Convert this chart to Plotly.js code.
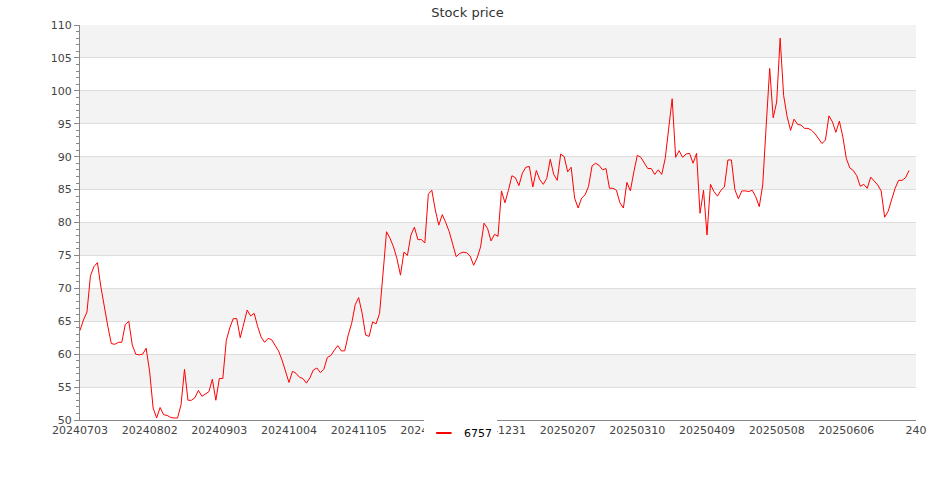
<!DOCTYPE html>
<html>
<head>
<meta charset="utf-8">
<script src="https://cdn.plot.ly/plotly-3.0.1.min.js"></script>
<style>
html, body { margin: 0; padding: 0; background: #ffffff; }
#chart { width: 935px; height: 500px; }
</style>
</head>
<body>
<div id="chart"></div>
<script>
// ---- data ----
const seriesName = '6757';
const chartTitle = 'Stock price';

const prices = [
  63.6, 65.2, 66.4, 71.9, 73.3, 73.9, 70.2, 67.0, 64.2, 61.6,
  61.5, 61.8, 61.8, 64.5, 65.0, 61.4, 60.0, 59.9, 60.0, 60.9,
  57.3, 51.8, 50.3, 51.9, 50.8, 50.7, 50.4, 50.3, 50.3, 52.3,
  57.7, 53.0, 53.0, 53.4, 54.5, 53.6, 54.0, 54.3, 56.2, 53.0,
  56.3, 56.3, 62.1, 64.0, 65.4, 65.4, 62.5, 64.8, 66.7, 65.8,
  66.2, 64.2, 62.6, 61.8, 62.4, 62.2, 61.3, 60.5, 59.1, 57.3,
  55.7, 57.4, 57.1, 56.5, 56.3, 55.6, 56.4, 57.6, 57.9, 57.2,
  57.7, 59.5, 59.8, 60.6, 61.3, 60.5, 60.5, 62.9, 64.7, 67.5,
  68.6, 66.2, 62.9, 62.7, 64.9, 64.6, 66.2, 72.3, 78.6, 77.6,
  76.3, 74.5, 72.0, 75.5, 75.0, 78.1, 79.3, 77.4, 77.4, 76.9,
  84.3, 84.9, 81.9, 79.6, 81.2, 80.0, 78.6, 76.7, 74.8, 75.3,
  75.5, 75.4, 74.9, 73.5, 74.6, 76.3, 79.9, 79.1, 77.2, 78.2,
  77.9, 84.8, 83.0, 84.9, 87.1, 86.8, 85.6, 87.5, 88.4, 88.5,
  85.4, 87.9, 86.5, 85.8, 86.7, 89.6, 87.3, 86.4, 90.4, 90.0,
  87.7, 88.4, 83.7, 82.2, 83.7, 84.2, 85.5, 88.6, 89.0, 88.7,
  88.0, 88.2, 85.2, 85.2, 84.9, 83.0, 82.2, 86.1, 84.8, 87.7,
  90.2, 89.9, 89.1, 88.2, 88.2, 87.3, 88.0, 87.3, 89.7, 94.5,
  98.8, 89.9, 90.9, 89.9, 90.4, 90.5, 89.0, 90.5, 81.4, 84.9,
  78.1, 85.8, 84.7, 84.0, 84.9, 85.4, 89.5, 89.5, 85.0, 83.6,
  84.8, 84.8, 84.7, 84.9, 83.9, 82.4, 85.7, 94.8, 103.4, 95.9,
  98.3, 108.0, 99.3, 96.1, 94.0, 95.7, 94.9, 94.8, 94.3, 94.3,
  94.0, 93.5, 92.8, 92.0, 92.5, 96.2, 95.3, 93.7, 95.4, 93.0,
  89.7, 88.3, 87.9, 87.1, 85.5, 85.8, 85.2, 86.9, 86.3, 85.7,
  84.8, 80.8, 81.7, 83.4, 85.2, 86.4, 86.4, 86.8, 87.9
];

const tickPositions = [0, 20, 40, 60, 80, 100, 120, 140, 160, 180, 200, 220, 240];
const tickLabels = [
  '20240703', '20240802', '20240903', '20241004', '20241105', '20241203',
  '20241231', '20250207', '20250310', '20250409', '20250508', '20250606'
];

// ---- chart ----
const xIndex = prices.map((_, i) => i);

const yMin = 50, yMax = 110, yStep = 5;
const bands = [];
for (let v = yMin + yStep; v < yMax; v += 2 * yStep) {
  bands.push({
    type: 'rect', xref: 'paper', yref: 'y', x0: 0, x1: 1, y0: v, y1: v + yStep,
    fillcolor: '#f3f3f3', line: { width: 0 }, layer: 'below'
  });
}

const traces = [
  {
    x: xIndex, y: prices, type: 'scatter', mode: 'lines',
    name: seriesName, showlegend: false,
    line: { color: '#ff0000', width: 1 }
  },
  {
    x: [null], y: [null], type: 'scatter', mode: 'markers',
    name: seriesName, showlegend: true,
    marker: { symbol: 'line-ew', size: 11, color: '#ff0000', line: { color: '#ff0000', width: 2 } }
  }
];

const layout = {
  width: 935, height: 500,
  margin: { l: 80, r: 19, t: 25, b: 80 },
  paper_bgcolor: '#ffffff', plot_bgcolor: '#ffffff',
  font: { family: 'DejaVu Sans', size: 11, color: '#444444' },
  title: {
    text: chartTitle, x: 0.5, xanchor: 'center', y: 0.976, yanchor: 'middle',
    font: { family: 'DejaVu Sans', size: 13, color: '#333333' }
  },
  xaxis: {
    range: [0, 240], tickmode: 'array', tickvals: tickPositions, ticktext: tickLabels,
    showgrid: false, zeroline: false, showline: true, linecolor: '#888888', linewidth: 1,
    ticks: '', tickfont: { size: 11, color: '#444444' }
  },
  yaxis: {
    range: [yMin, yMax], tick0: yMin, dtick: yStep,
    ticks: 'outside', ticklen: 5, tickcolor: '#888888', tickwidth: 1,
    showline: true, linecolor: '#888888', linewidth: 1,
    showgrid: true, gridcolor: '#dddddd', gridwidth: 1, zeroline: false,
    tickfont: { size: 11, color: '#444444' },
    minor: { dtick: 1, ticks: 'outside', ticklen: 3, tickcolor: '#888888', showgrid: false }
  },
  shapes: bands,
  showlegend: true,
  legend: {
    orientation: 'h', x: 0.455, xanchor: 'center', y: -0.033, yanchor: 'middle',
    bgcolor: '#ffffff', borderwidth: 0,
    font: { family: 'DejaVu Sans', size: 11, color: '#000000' }
  }
};

Plotly.newPlot('chart', traces, layout, { displayModeBar: false, staticPlot: true });
</script>
</body>
</html>
